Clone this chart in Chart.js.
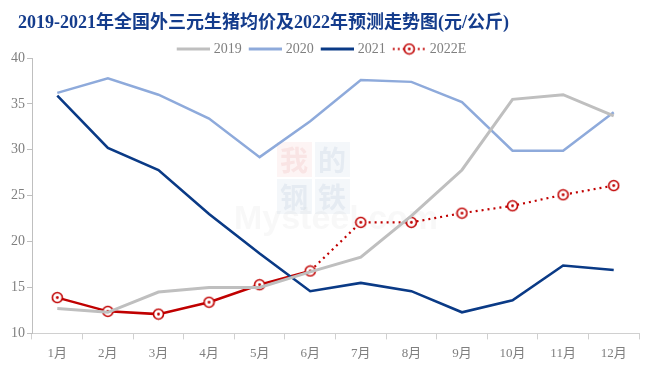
<!DOCTYPE html>
<html>
<head>
<meta charset="utf-8">
<script src="https://cdn.jsdelivr.net/npm/chart.js@4"></script>
<style>
  html, body { margin: 0; padding: 0; background: #fff; }
  #wrap { width: 652px; height: 369px; }
</style>
</head>
<body>
<div id="wrap"><canvas id="pigChart"></canvas></div>
<script>
// data
const months = ["1月", "2月", "3月", "4月", "5月", "6月", "7月", "8月", "9月", "10月", "11月", "12月"];
const price2019 = [12.7, 12.3, 14.5, 15.0, 15.0, 16.7, 18.3, 22.8, 27.8, 35.5, 36.0, 33.7];
const price2020 = [36.2, 37.8, 36.0, 33.4, 29.2, 33.1, 37.6, 37.4, 35.2, 29.9, 29.9, 34.1];
const price2021 = [35.9, 30.2, 27.8, 23.0, 18.7, 14.6, 15.5, 14.6, 12.3, 13.6, 17.4, 16.9];
const price2022E = [13.9, 12.4, 12.1, 13.4, 15.3, 16.8, 22.1, 22.1, 23.1, 23.9, 25.1, 26.1];
const yTicks = [10, 15, 20, 25, 30, 35, 40];

const serif = "'Liberation Serif', 'Times New Roman', 'Noto Sans CJK SC', serif";
const red = "#c00000";
const titleText = "2019-2021年全国外三元生猪均价及2022年预测走势图(元/公斤)";

// ring with a dot, used for the 2022E markers
function makeMarker() {
  const c = document.createElement("canvas");
  c.width = 13; c.height = 13;
  const g = c.getContext("2d");
  g.strokeStyle = red;
  g.lineWidth = 1.6;
  g.fillStyle = "#fff";
  g.beginPath(); g.arc(6.5, 6.5, 5, 0, Math.PI * 2); g.fill(); g.stroke();
  g.fillStyle = red;
  g.beginPath(); g.arc(6.5, 6.5, 1.4, 0, Math.PI * 2); g.fill();
  return c;
}

// legend swatches: 36px image over a 30px box, line runs 3px past the box
function makeSwatch(color, dotted) {
  const c = document.createElement("canvas");
  c.width = 36; c.height = 13;
  const g = c.getContext("2d");
  g.strokeStyle = color;
  g.lineWidth = 3;
  if (dotted) {
    g.setLineDash([2, 3]);
    g.lineWidth = 2;
  }
  g.beginPath(); g.moveTo(3, 6.5); g.lineTo(36, 6.5); g.stroke();
  if (dotted) g.drawImage(makeMarker(), 13, 0);
  return c;
}

const marker = makeMarker();

// faint site logo behind the lines
const watermark = {
  id: "watermark",
  beforeDatasetsDraw(chart) {
    const ctx = chart.ctx;
    ctx.save();
    ctx.globalAlpha = 0.06;
    ctx.fillStyle = "#e04040";
    ctx.fillRect(277, 142, 35, 35);
    ctx.fillStyle = "#4a70b0";
    ctx.fillRect(315, 142, 35, 35);
    ctx.fillRect(277, 179, 35, 35);
    ctx.fillRect(315, 179, 35, 35);
    ctx.globalAlpha = 0.09;
    ctx.fillStyle = "#d04040";
    ctx.font = "bold 28px 'Noto Sans CJK SC'";
    ctx.textAlign = "center";
    ctx.textBaseline = "middle";
    ctx.fillText("我", 294, 160);
    ctx.fillStyle = "#5070a0";
    ctx.fillText("的", 332, 160);
    ctx.fillText("钢", 294, 197);
    ctx.fillText("铁", 332, 197);
    ctx.globalAlpha = 0.06;
    ctx.fillStyle = "#808080";
    ctx.font = "bold 34px 'Liberation Sans'";
    ctx.fillText("Mysteel.com", 336, 220);
    ctx.restore();
  }
};

// title drawn by hand, legend nudged down into its slot
const titleAndLegend = {
  id: "titleAndLegend",
  afterLayout(chart) {
    chart.legend.top += 8;
    chart.legend.bottom += 8;
  },
  afterDraw(chart) {
    const ctx = chart.ctx;
    ctx.save();
    ctx.font = "bold 18px " + serif;
    ctx.fillStyle = "#143c8c";
    ctx.textAlign = "left";
    ctx.textBaseline = "middle";
    ctx.fillText(titleText, 18, 23);
    ctx.restore();
  }
};

new Chart(document.getElementById("pigChart").getContext("2d"), {
  type: "line",
  data: {
    labels: months,
    datasets: [
      { label: "2019", data: price2019, borderColor: "#bfbfbf", borderWidth: 3, pointRadius: 0, tension: 0 },
      { label: "2020", data: price2020, borderColor: "#8eaadb", borderWidth: 2.5, pointRadius: 0, tension: 0 },
      { label: "2021", data: price2021, borderColor: "#0a3a86", borderWidth: 2.6, pointRadius: 0, tension: 0 },
      {
        label: "2022E", data: price2022E, borderColor: red, borderWidth: 2.5,
        pointStyle: marker, pointRadius: 6, tension: 0,
        segment: {
          borderDash: c => c.p0DataIndex >= 5 ? [2, 4] : undefined,
          borderWidth: c => c.p0DataIndex >= 5 ? 2.2 : 2.5
        }
      }
    ]
  },
  options: {
    responsive: true,
    maintainAspectRatio: false,
    animation: false,
    layout: { padding: { left: 4, right: 13, top: 27, bottom: 2 } },
    plugins: {
      title: { display: false },
      legend: {
        display: true,
        labels: {
          usePointStyle: true,
          pointStyleWidth: 30,
          boxHeight: 13,
          color: "#7f7f7f",
          font: { family: serif, size: 14 },
          padding: 7,
          generateLabels(chart) {
            const colors = ["#bfbfbf", "#8eaadb", "#0a3a86", red];
            return chart.data.datasets.map((ds, i) => ({
              text: ds.label,
              pointStyle: makeSwatch(colors[i], i === 3),
              fillStyle: colors[i],
              strokeStyle: colors[i],
              lineWidth: 0,
              fontColor: "#7f7f7f",
              datasetIndex: i,
              hidden: false
            }));
          }
        }
      },
      tooltip: { enabled: false }
    },
    scales: {
      x: {
        offset: true,
        grid: { display: true, drawOnChartArea: false, offset: true, color: "#d0d0d0", tickLength: 6 },
        border: { color: "#d0d0d0" },
        ticks: { color: "#7f7f7f", font: { family: serif, size: 13 }, padding: 6 }
      },
      y: {
        min: 10,
        max: 40,
        afterBuildTicks: axis => { axis.ticks = yTicks.map(v => ({ value: v })); },
        afterFit: axis => { axis.width = 28; },
        grid: { display: true, drawOnChartArea: false, color: "#bfbfbf", tickLength: 5 },
        border: { color: "#bfbfbf" },
        ticks: { color: "#7f7f7f", font: { family: serif, size: 14 }, padding: 2 }
      }
    }
  },
  plugins: [watermark, titleAndLegend]
});
</script>
</body>
</html>
